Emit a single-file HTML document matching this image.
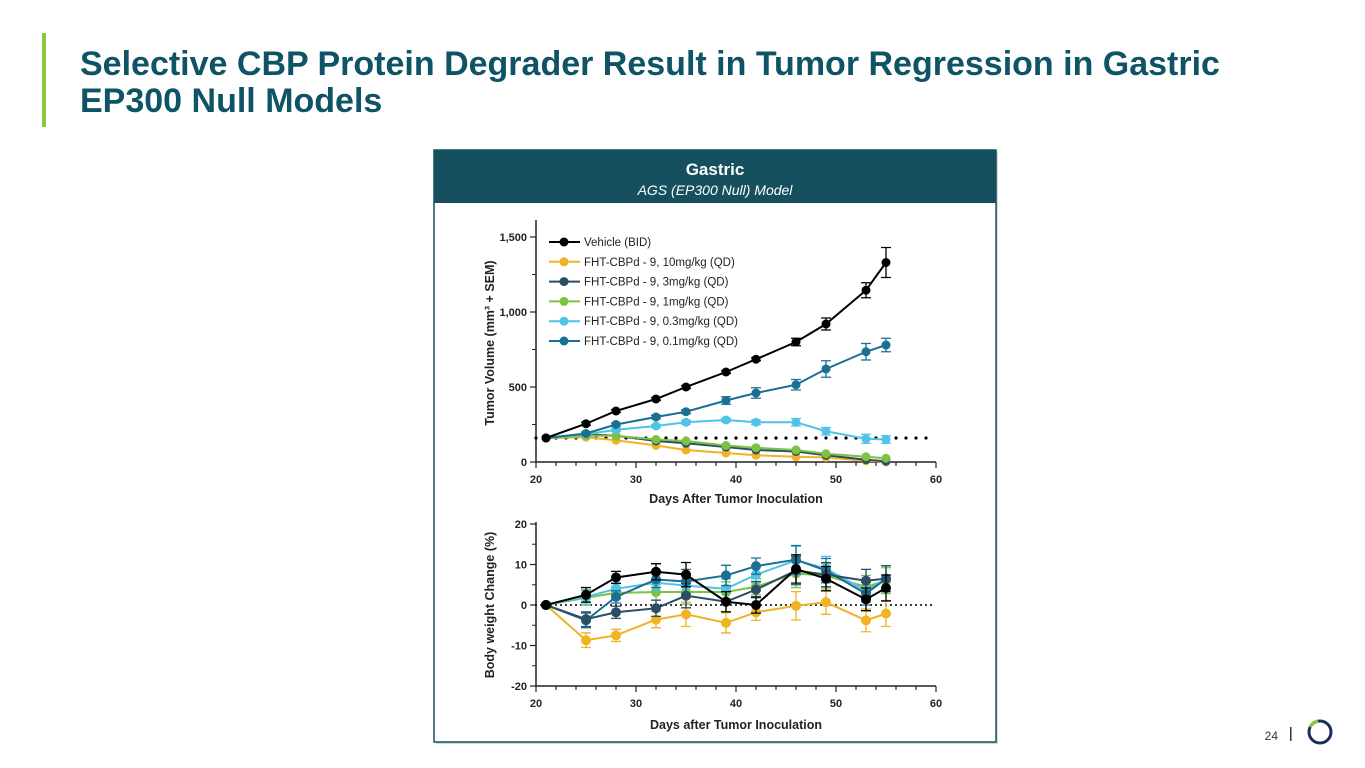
<!DOCTYPE html>
<html><head><meta charset="utf-8"><style>
body{margin:0;background:#fff;font-family:"Liberation Sans",Arial,sans-serif;}
svg{display:block}
</style></head><body>
<svg id="s" width="1365" height="768" viewBox="0 0 1365 768">
<rect x="42" y="33" width="4" height="94" fill="#8dc63f"/>
<text x="80" y="75" font-size="34" font-weight="bold" fill="#0e5466">Selective CBP Protein Degrader Result in Tumor Regression in Gastric</text>
<text x="80" y="112" font-size="34" font-weight="bold" fill="#0e5466">EP300 Null Models</text>
<rect x="436" y="152" width="562" height="592" fill="#d8d8d8"/>
<rect x="434" y="150" width="562" height="592" fill="#fff" stroke="#16505e" stroke-width="1.5"/>
<rect x="434" y="150" width="562" height="53" fill="#16505e"/>
<text x="715" y="175" font-size="17" font-weight="bold" fill="#fff" text-anchor="middle">Gastric</text>
<text x="715" y="195" font-size="14" font-style="italic" fill="#fff" text-anchor="middle">AGS (EP300 Null) Model</text>
<g id="topChart"></g><g id="botChart"></g>
<text x="1278" y="740" font-size="12" fill="#333" text-anchor="end">24</text>
<rect x="1290" y="727" width="1.5" height="14" fill="#333"/>
<circle cx="1320" cy="732" r="11" fill="none" stroke="#1b2f5c" stroke-width="3"/>
<path d="M1310 727 A11 11 0 0 1 1318 721" fill="none" stroke="#8dc63f" stroke-width="3.4"/>
</svg>
<script>
const days=[21,25,28,32,35,39,42,46,49,53,55];
const seriesNames=["Vehicle (BID)","FHT-CBPd - 9, 10mg/kg (QD)","FHT-CBPd - 9, 3mg/kg (QD)","FHT-CBPd - 9, 1mg/kg (QD)","FHT-CBPd - 9, 0.3mg/kg (QD)","FHT-CBPd - 9, 0.1mg/kg (QD)"];
const colors=["#000000","#f0b323","#2a4e66","#7dc242","#4fc3e8","#1a6f92"];
const tvVehicle=[160,255,340,420,500,600,685,800,920,1145,1330];
const tv10=[160,165,145,110,80,60,45,35,30,8,2];
const tv3=[160,185,175,140,125,100,80,70,45,15,5];
const tv1=[160,175,175,150,140,110,95,80,55,35,25];
const tv03=[160,185,215,240,265,280,265,265,205,155,150];
const tv01=[160,190,250,300,335,410,460,515,620,735,780];
const tvErrVehicle=[0,10,10,10,10,10,10,25,40,50,100];
const tvErr01=[0,10,10,12,12,25,35,35,55,55,45];
const tvErr03=[0,10,10,10,12,12,15,25,25,30,25];
const bwVehicle=[0,2.5,6.8,8.2,7.5,0.8,0,8.9,6.5,1.4,4.2];
const bw10=[0,-8.7,-7.5,-3.6,-2.3,-4.4,-1.8,-0.2,0.7,-3.8,-2.1];
const bw3=[0,-3.5,-1.8,-0.8,2.3,0.8,3.8,8.5,7.5,6.0,6.5];
const bw1=[0,1.8,3.0,3.2,3.2,3.2,4.5,7.8,7.2,4.5,6.0];
const bw03=[0,2,4,5.5,4.8,4,7.5,11,9,3.5,6.5];
const bw01=[0,-3.8,2,6.3,5.8,7.3,9.6,11.2,8.5,2.8,6.5];
const bwErr=[0,1.8,1.5,2,3,2.5,2,3.5,3,2.8,3.2];
const xTicks=[20,30,40,50,60];
const tvTicks=[0,500,1000,1500];
const bwTicks=[-20,-10,0,10,20];
const baseline=160;

const NS="http://www.w3.org/2000/svg";
function el(p,t,a){const e=document.createElementNS(NS,t);for(const k in a)e.setAttribute(k,a[k]);p.appendChild(e);return e;}
const X=d=>536+(d-20)*10;
const Yt=v=>462-v*0.15;
const Yb=v=>605-v*4.05;

function axes(g,Y,yt,yLabelFmt,y0,y1,title,ytitle,ytx,yty,prefix){
  const ax=el(g,'line',{x1:536,y1:Y(y0),x2:936,y2:Y(y0),stroke:'#222','stroke-width':1.5});
  
  const ay=el(g,'line',{x1:536,y1:Y(y1)-2,x2:536,y2:Y(y0),stroke:'#222','stroke-width':1.5});
  
  for(let d=20;d<=60;d+=2){const l=el(g,'line',{x1:X(d),y1:Y(y0),x2:X(d),y2:Y(y0)+(d%10==0?6:4),stroke:'#222','stroke-width':1.2});
    }
  xTicks.forEach(d=>{const t=el(g,'text',{x:X(d),y:Y(y0)+21,'font-size':11,'font-weight':'bold','text-anchor':'middle',fill:'#222'});t.textContent=d;
    });
  yt.forEach(v=>{const l=el(g,'line',{x1:530,y1:Y(v),x2:536,y2:Y(v),stroke:'#222','stroke-width':1.2});
    
    const t=el(g,'text',{x:527,y:Y(v)+4,'font-size':11,'font-weight':'bold','text-anchor':'end',fill:'#222'});t.textContent=yLabelFmt(v);
    });
  for(let i=0;i<yt.length-1;i++){const m=(yt[i]+yt[i+1])/2;const l=el(g,'line',{x1:532,y1:Y(m),x2:536,y2:Y(m),stroke:'#222','stroke-width':1});
    }
  const xt=el(g,'text',{x:736,y:Y(y0)+title[1],'font-size':12.5,'font-weight':'bold','text-anchor':'middle',fill:'#222'});xt.textContent=title[0];
  
  const ytl=el(g,'text',{x:ytx,y:yty,'font-size':12.5,'font-weight':'bold','text-anchor':'middle',fill:'#222',transform:`rotate(-90 ${ytx} ${yty})`});ytl.textContent=ytitle;
  
}
function series(g,vals,errs,Y,c,r,name){
  const s=el(g,'g',{});
  if(errs)vals.forEach((v,i)=>{if(!errs[i])return;const x=X(days[i]);
    const e=el(s,'path',{d:`M${x} ${Y(v-errs[i])}V${Y(v+errs[i])}M${x-5} ${Y(v-errs[i])}h10M${x-5} ${Y(v+errs[i])}h10`,stroke:c,fill:'none','stroke-width':1.3});
    });
  const p=el(s,'polyline',{points:vals.map((v,i)=>X(days[i])+','+Y(v)).join(' '),fill:'none',stroke:c,'stroke-width':2});
  
  vals.forEach((v,i)=>{const m=el(s,'circle',{cx:X(days[i]),cy:Y(v),r:r,fill:c});
    });
}
const gTop=document.getElementById('topChart'),gBot=document.getElementById('botChart');
axes(gTop,Yt,tvTicks,v=>v.toLocaleString('en-US'),0,1600,['Days After Tumor Inoculation',41],'Tumor Volume (mm³ + SEM)',494,343,'tumor');
axes(gBot,Yb,bwTicks,v=>v,-20,20,['Days after Tumor Inoculation',43],'Body weight Change (%)',494,605,'bw');
const bl=el(gTop,'line',{x1:536,y1:Yt(baseline),x2:936,y2:Yt(baseline),stroke:'#000','stroke-width':3.2,'stroke-dasharray':'0 10','stroke-linecap':'round'});

const zl=el(gBot,'line',{x1:536,y1:Yb(0),x2:936,y2:Yb(0),stroke:'#000','stroke-width':2,'stroke-dasharray':'0 5','stroke-linecap':'round'});

const tvs=[tvVehicle,tv10,tv3,tv1,tv03,tv01];
const tvE=[tvErrVehicle,null,null,null,tvErr03,tvErr01];
[1,2,3,4,5,0].forEach(i=>series(gTop,tvs[i],tvE[i],Yt,colors[i],4.5,'tumor-series-'+i));
const bws=[bwVehicle,bw10,bw3,bw1,bw03,bw01];
[1,3,4,5,2,0].forEach(i=>series(gBot,bws[i],bwErr,Yb,colors[i],5,'bw-series-'+i));
seriesNames.forEach((n,i)=>{const y=242+i*19.8;const g=el(gTop,'g',{});
  
  el(g,'line',{x1:549,y1:y,x2:580,y2:y,stroke:colors[i],'stroke-width':2});
  el(g,'circle',{cx:564,cy:y,r:4.5,fill:colors[i]});
  const t=el(g,'text',{x:584,y:y+4,'font-size':11.5,fill:'#222'});t.textContent=n;});
</script>
</body></html>
